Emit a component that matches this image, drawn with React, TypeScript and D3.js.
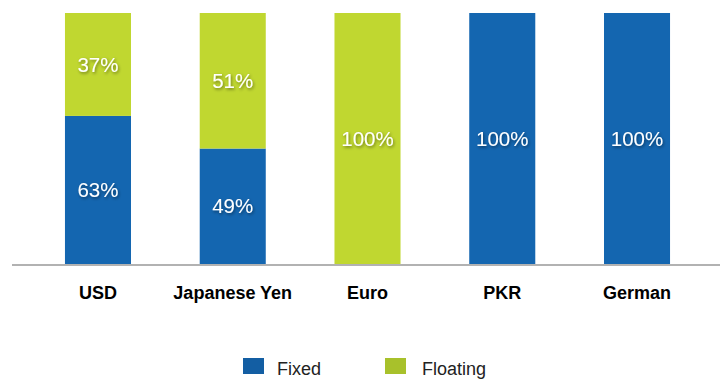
import React from "react";
import * as d3 from "d3";

const categories = ["USD", "Japanese Yen", "Euro", "PKR", "German"];
// segment shares as drawn in the picture
const fixedValues = [59, 46, 0, 100, 100];
const floatingValues = [41, 54, 100, 0, 0];
// printed data labels
const fixedLabels = ["63%", "49%", "", "100%", "100%"];
const floatingLabels = ["37%", "51%", "100%", "", ""];
const seriesNames = ["Fixed", "Floating"];

const W = 720;
const H = 380;
const BLUE = "#1466B0";
const GREEN = "#C0D730";
const LEG_BLUE = "#135EA3";
const LEG_GREEN = "#A8C12B";

export default function App() {
  const x = d3
    .scaleBand<string>()
    .domain(categories)
    .range([30.6, 704.4])
    .paddingInner(0.51)
    .paddingOuter(0.255);
  const y = d3.scaleLinear().domain([0, 100]).range([264, 13]);

  const rows = categories.map((c, i) => ({
    cat: c,
    fixed: fixedValues[i],
    floating: floatingValues[i],
  }));
  const stack = d3.stack<any>().keys(["fixed", "floating"])(rows);
  const colors = [BLUE, GREEN];
  const labels = [fixedLabels, floatingLabels];

  return (
    <svg
      width={W}
      height={H}
      style={{ position: "absolute", left: 0, top: 0, fontFamily: "'Liberation Sans', Arial, sans-serif" }}
    >
      <defs>
        <filter id="ts" x="-20%" y="-30%" width="140%" height="160%">
          <feDropShadow dx="1" dy="1.5" stdDeviation="1.5" floodColor="#000" floodOpacity="0.45" />
        </filter>
      </defs>
      <rect width={W} height={H} fill="#fff" />
      {stack.map((s, si) => (
        <g key={si}>
          {s.map((d, i) =>
            d[1] - d[0] > 0 ? (
              <rect
                key={i}
                x={x(categories[i])}
                y={y(d[1])}
                width={x.bandwidth()}
                height={y(d[0]) - y(d[1])}
                fill={colors[si]}
              />
            ) : null
          )}
        </g>
      ))}
      {stack.map((s, si) => (
        <g key={"l" + si}>
          {s.map((d, i) =>
            labels[si][i] ? (
              <text
                key={i}
                x={(x(categories[i]) as number) + x.bandwidth() / 2}
                y={(y(d[0]) + y(d[1])) / 2}
                dy="0.35em"
                textAnchor="middle"
                fill="#fff"
                fontSize={20.5}
                filter="url(#ts)"
              >
                {labels[si][i]}
              </text>
            ) : null
          )}
        </g>
      ))}
      <line x1={12} x2={720} y1={265} y2={265} stroke="#B2B2B2" strokeWidth={2} />
      {categories.map((c) => (
        <text
          key={c}
          x={(x(c) as number) + x.bandwidth() / 2}
          y={299}
          textAnchor="middle"
          fontWeight="bold"
          fontSize={18}
          fill="#000"
        >
          {c}
        </text>
      ))}
      <g>
        <rect x={243} y={358} width={21} height={16} fill={LEG_BLUE} />
        <text x={277} y={375} fontSize={18} fill="#222">{seriesNames[0]}</text>
        <rect x={385} y={358} width={21} height={16} fill={LEG_GREEN} />
        <text x={422} y={375} fontSize={18} fill="#222">{seriesNames[1]}</text>
      </g>
    </svg>
  );
}
